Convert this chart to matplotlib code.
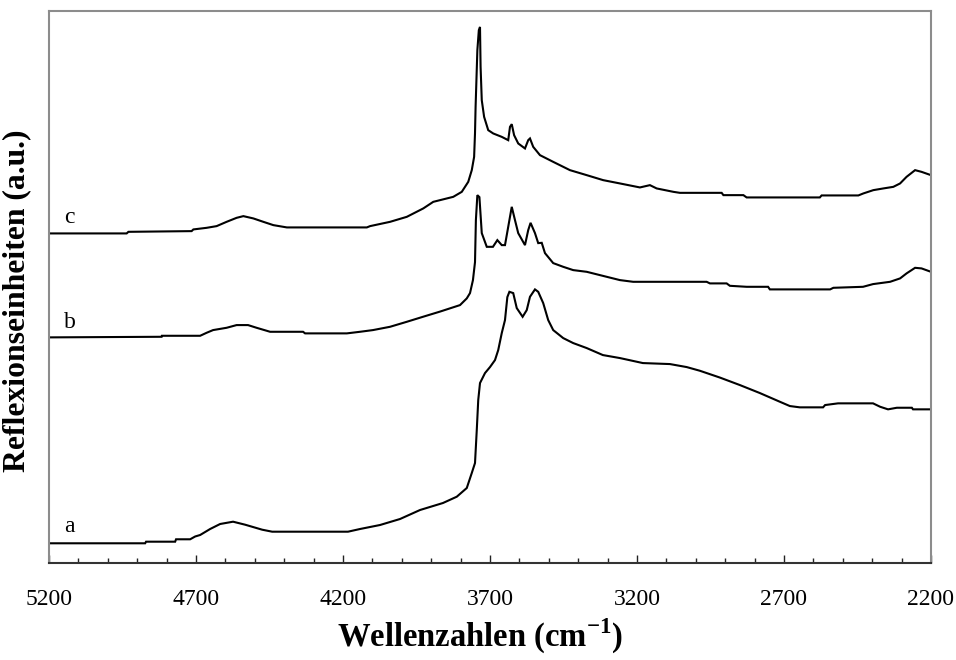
import matplotlib
matplotlib.use("Agg")
import matplotlib.pyplot as plt
from matplotlib.ticker import FixedLocator, MultipleLocator

plt.rcParams["font.family"] = ["Liberation Serif", "DejaVu Serif"]
plt.rcParams["mathtext.fontset"] = "custom"
plt.rcParams["mathtext.rm"] = "Liberation Serif"
plt.rcParams["mathtext.bf"] = "Liberation Serif:bold"

# spectrum a (wavenumber, intensity in a.u.)
wn_a = [5200, 4873, 4870, 4771, 4768, 4720, 4703, 4686, 4652, 4618, 4574, 4533,
        4475, 4441, 4183, 4142, 4074, 4006, 3938, 3860, 3813, 3779, 3762, 3751,
        3745, 3740, 3734, 3717, 3700, 3683, 3672, 3660, 3649, 3641, 3634, 3621,
        3609, 3589, 3575, 3564, 3547, 3536, 3519, 3502, 3485, 3451, 3417, 3371,
        3316, 3258, 3180, 3088, 3031, 2986, 2918, 2850, 2782, 2714, 2680, 2646,
        2567, 2560, 2516, 2397, 2373, 2346, 2316, 2265, 2261, 2200]
int_a = [19.7, 19.7, 21.3, 21.3, 23.7, 23.7, 26.5, 28, 34, 39, 41.3, 38.3,
         33.3, 31.3, 31.3, 34, 38, 44, 53, 60, 66.3, 75, 90, 100,
         133, 163, 180, 190, 196, 203, 213, 230, 243, 266, 271.3, 270,
         255, 246.3, 253, 266.3, 273.7, 271.3, 260, 243, 233, 225, 220, 215,
         208, 205, 200, 199, 196, 192.3, 185.5, 178, 170, 161.3, 157, 155.7,
         155.7, 158, 159.7, 159.7, 156.3, 153.7, 155.3, 155.3, 153.7, 153.7]

# spectrum b
wn_b = [5200, 4817, 4816, 4686, 4664, 4642, 4596, 4562, 4523, 4494, 4448, 4336,
        4329, 4187, 4142, 4098, 4040, 3983, 3928, 3870, 3802, 3779, 3768, 3758,
        3751, 3748, 3743, 3736, 3728, 3711, 3690, 3675, 3660, 3649, 3638, 3626,
        3615, 3604, 3581, 3570, 3562, 3547, 3536, 3524, 3513, 3485, 3451, 3417,
        3371, 3303, 3258, 3213, 2963, 2952, 2895, 2884, 2827, 2754, 2748, 2543,
        2532, 2431, 2397, 2339, 2305, 2283, 2254, 2232, 2200]
int_b = [225.7, 226.3, 227.3, 227.3, 230.3, 233, 235.3, 238, 238, 235.3, 231.3, 231.3,
         229.7, 229.7, 231.3, 233, 236.3, 241.3, 246.3, 251.5, 258, 264.7, 270, 283,
         301, 343, 368, 366, 330, 316.3, 316.3, 323, 318, 318, 336.3, 356.3,
         343, 330, 318, 333, 340.3, 330, 320, 320.3, 310, 300, 296.3, 293,
         291.3, 286.3, 283, 281.3, 281.3, 279.7, 279.7, 277.3, 276.3, 276.3, 273.7, 273.7,
         275.3, 276.3, 279, 281.3, 284.7, 289.7, 295.3, 294.7, 291.3]

# spectrum c
wn_c = [5200, 4936, 4930, 4715, 4709, 4664, 4630, 4596, 4562, 4539, 4505, 4471,
        4437, 4391, 4119, 4108, 4040, 3983, 3927, 3893, 3825, 3796, 3774, 3762,
        3754, 3751, 3749, 3743, 3738, 3734, 3732, 3728, 3720, 3706, 3689, 3660,
        3638, 3632, 3626, 3618, 3604, 3581, 3570, 3564, 3553, 3530, 3485, 3428,
        3371, 3315, 3258, 3190, 3156, 3133, 3076, 3054, 2912, 2906, 2838, 2827,
        2578, 2572, 2447, 2430, 2396, 2362, 2328, 2305, 2283, 2254, 2232, 2200]
int_c = [329.7, 329.7, 331.3, 332, 333.7, 335.3, 337, 341.3, 345.3, 347, 344.7, 341.3,
         338, 335.7, 335.7, 337, 341.3, 346.3, 354.7, 361.3, 366.3, 371.3, 381.3, 393,
         406.3, 430, 456.3, 513, 533, 536.3, 496.3, 463, 446.3, 433, 429.7, 426.3,
         423, 436.3, 439, 428, 419.7, 414.7, 423, 424.7, 416.3, 408, 401.3, 393,
         388, 383, 379.7, 375.7, 378, 374.7, 371.3, 370.3, 370.3, 368, 368, 365.7,
         365.7, 367.7, 367.7, 369.7, 373, 374.7, 376.3, 379.7, 386.3, 393, 391.3, 388]

labels = ["a", "b", "c"]
label_y = [36, 241, 346]
major_ticks = [5200, 4700, 4200, 3700, 3200, 2700, 2200]

fig = plt.figure(figsize=(9.56, 6.6), dpi=100)
ax = fig.add_axes([0.0513, 0.147, 0.9225, 0.836])

for wn, inten in [(wn_a, int_a), (wn_b, int_b), (wn_c, int_c)]:
    ax.plot(wn, inten, color="black", lw=1.5, solid_joinstyle="miter")

for lab, ly in zip(labels, label_y):
    ax.text(5130, ly, lab, fontsize=17, ha="center", va="center")

ax.set_xlim(5200, 2200)
ax.set_ylim(0, 552)
ax.xaxis.set_major_locator(FixedLocator(major_ticks))
ax.xaxis.set_minor_locator(MultipleLocator(100))
ax.set_yticks([])
ax.tick_params(axis="x", which="major", direction="in", length=6, width=1,
               pad=19, labelsize=17, color="#222222")
ax.tick_params(axis="x", which="minor", direction="in", length=3.5, width=1,
               color="#222222")

for side in ["left", "top", "right"]:
    ax.spines[side].set_color("#8c8c8c")
    ax.spines[side].set_linewidth(1.5)
ax.spines["bottom"].set_color("#333333")
ax.spines["bottom"].set_linewidth(1.5)

fig.text(0.502, 0.035, r"Wellenzahlen (cm$^{\mathbf{-1}}$)", fontsize=23.5,
         fontweight="bold", ha="center", va="center")
fig.text(0.018, 0.545, "Reflexionseinheiten (a.u.)", fontsize=22.8,
         fontweight="bold", ha="center", va="center", rotation=90)

fig.savefig("out.png", dpi=100, facecolor="white")
